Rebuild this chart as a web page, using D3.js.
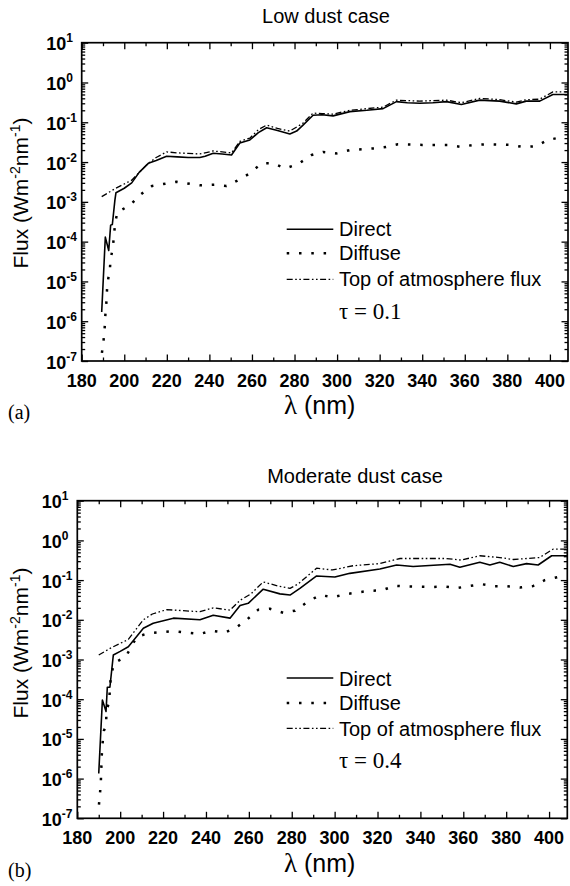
<!DOCTYPE html>
<html><head><meta charset="utf-8">
<script src="https://cdn.jsdelivr.net/npm/d3@7"></script>
<style>body{margin:0;background:#fff}</style></head>
<body>
<svg id="c" width="570" height="886" xmlns="http://www.w3.org/2000/svg"></svg>
<script>
// ---------- DATA ----------
const xTicks = [180,200,220,240,260,280,300,320,340,360,380,400];
const yTickExps = [1,0,-1,-2,-3,-4,-5,-6,-7];

// Panel (a) Low dust case
const lowDirectWl = [189.4,191.1,192.7,193.6,194.4,195.6,196.1,200,203.5,207,211.3,215,219.9,225,230,235.5,238,241.8,246,250.4,254.3,259,263,266.9,272,277.8,281,284,288.7,293,298.1,306,314,321.6,327.9,333,338.8,345,351.4,358.4,367,376.4,384.2,388.9,395.2,401.4,408.5];
const lowDirect   = [1.7e-6,1.3e-4,6e-5,2.6e-4,2.7e-4,1.1e-3,1.7e-3,2.2e-3,3e-3,5.5e-3,9.3e-3,1.1e-2,1.4e-2,1.35e-2,1.3e-2,1.3e-2,1.4e-2,1.66e-2,1.6e-2,1.5e-2,3e-2,3.6e-2,5.5e-2,7.3e-2,6.2e-2,5.1e-2,6e-2,8.5e-2,0.15,0.155,0.145,0.185,0.2,0.22,0.33,0.31,0.3,0.31,0.33,0.28,0.36,0.34,0.29,0.34,0.34,0.5,0.5];
const lowDiffuseWl = [189.5,190.3,190.8,191.1,191.6,191.9,192.5,193.2,193.5,194.6,195.2,195.7,196.8,198.8,202.8,207.5,213,224.6,235.5,242.5,248,253.5,259,264.5,270,275.5,281.7,288,293.4,299.7,306,317,323,328.6,340,352,358.4,364,370.2,381,387.3,393.6,399,405.4];
const lowDiffuse   = [1.6e-7,3.4e-7,6.9e-7,1.4e-6,3e-6,6.2e-6,1.2e-5,1.7e-5,3.5e-5,6.8e-5,1.5e-4,2.9e-4,5.6e-4,6.3e-4,8.3e-4,1.5e-3,2.5e-3,3.2e-3,2.6e-3,2.7e-3,2.5e-3,3.5e-3,5.2e-3,9.3e-3,9.3e-3,6.9e-3,8.9e-3,1.5e-2,1.8e-2,1.65e-2,2e-2,2.2e-2,2.4e-2,2.8e-2,2.7e-2,2.7e-2,2.4e-2,2.7e-2,2.8e-2,2.7e-2,2.4e-2,2.5e-2,3.6e-2,4.2e-2];
const lowToaWl = [189.4,196,203.5,210.5,215,219.9,225,230,235.5,241.8,246,250.4,254.3,259,263,266.9,272,277.8,284,288.7,293,298.1,306,314,321.6,327.9,338.8,351.4,358.4,367,376.4,384.2,388.9,395.2,401.4,408.5];
const lowToa   = [1.35e-3,2.2e-3,3.5e-3,8.5e-3,1.3e-2,1.8e-2,1.7e-2,1.65e-2,1.6e-2,1.9e-2,1.8e-2,1.7e-2,3.3e-2,4e-2,6.5e-2,8.5e-2,7e-2,6e-2,9.5e-2,0.17,0.165,0.16,0.2,0.22,0.24,0.36,0.34,0.36,0.31,0.4,0.37,0.32,0.37,0.38,0.58,0.58];

// Panel (b) Moderate dust case
const modDirectWl = [190,191.7,193.4,194,195.2,196.8,200,203.8,210.8,215.4,224.8,237.2,243.4,251.2,255.9,259.7,266.7,274.5,279.2,283.8,291.6,300.1,307.1,321.1,328.9,336.6,353.8,358.4,367.7,372.4,377,383.3,389.5,394.9,401.2,408.5];
const modDirect   = [1.35e-6,9.5e-5,4.9e-5,2e-4,2e-4,1.3e-3,1.6e-3,2.1e-3,6.1e-3,8.2e-3,1.1e-2,1.0e-2,1.3e-2,1.1e-2,2.3e-2,2.6e-2,5.9e-2,4.5e-2,4.2e-2,6.2e-2,0.127,0.12,0.148,0.19,0.24,0.22,0.25,0.21,0.28,0.24,0.28,0.22,0.26,0.24,0.41,0.41];
const modDiffuseWl = [190.1,190.6,191,191.2,191.4,191.8,192.4,193.4,193.6,194.9,195.2,195.7,197.1,202.7,207.7,213.1,224.8,237.2,242.7,248.9,254.3,259,264.4,269.8,276,281.5,287.7,293.2,299.4,304.8,316.5,321.9,328.1,333.5,345.2,351.4,356.9,368.5,374.7,380.2,386.4,392.6,398,404.3];
const modDiffuse   = [2.2e-7,4.3e-7,9e-7,1.8e-6,3.8e-6,7.8e-6,1.6e-5,2.2e-5,4.9e-5,9e-5,1.9e-4,3.8e-4,8e-4,1.2e-3,3.7e-3,4.6e-3,5.2e-3,4.4e-3,5.3e-3,4.8e-3,6.5e-3,1e-2,1.8e-2,1.9e-2,1.5e-2,1.7e-2,2.9e-2,4.2e-2,3.7e-2,4.4e-2,5.4e-2,5.5e-2,7.2e-2,6.9e-2,6.7e-2,6.9e-2,6.3e-2,7.9e-2,7e-2,7e-2,6.5e-2,7.1e-2,0.1,0.12];
const modToaWl = [190,196,203.8,210.8,215,221.7,237.2,243.4,251.2,255.9,261,266.7,274,279.2,283,291.6,299,308.6,321,330.5,352,359,367.7,377,383.3,395.6,401.8,408.5];
const modToa   = [1.3e-3,2e-3,3.2e-3,1e-2,1.4e-2,1.8e-2,1.6e-2,2.0e-2,1.75e-2,3.1e-2,4.5e-2,9e-2,7e-2,6.2e-2,8e-2,0.2,0.18,0.23,0.26,0.35,0.35,0.32,0.41,0.37,0.33,0.37,0.6,0.6];

const legendLabels = ["Direct","Diffuse","Top of atmosphere flux"];

// ---------- STYLES / LAYOUT ----------
const SANS = "Arial, 'Liberation Sans', Helvetica, sans-serif";
const SERIF = "'Times New Roman', 'Liberation Serif', Times, serif";
const styles = [
  {dash:null, width:1.6, cap:"butt"},
  {dash:"2.5 9.8", width:2.5, cap:"butt"},
  {dash:"6 2.5 1.6 2.5 1.6 2.5", width:1.3, cap:"butt"}
];

const panels = [
  {title:"Low dust case", tx:326, ty:23, L:81.7, R:568, T:42.7, B:361,
   series:[[lowDirectWl,lowDirect],[lowDiffuseWl,lowDiffuse],[lowToaWl,lowToa]],
   legLineY:[229.3,253.3,279.3], legTextY:[235.7,260,286], tau:"τ = 0.1", tauY:319,
   yTitleCy:193, xTitleY:414, tag:"(a)", tagY:419},
  {title:"Moderate dust case", tx:355, ty:483, L:77.3, R:567.3, T:500.7, B:818.3,
   series:[[modDirectWl,modDirect],[modDiffuseWl,modDiffuse],[modToaWl,modToa]],
   legLineY:[678,703,728.3], legTextY:[685.7,710,736], tau:"τ = 0.4", tauY:768,
   yTitleCy:643, xTitleY:871.5, tag:"(b)", tagY:877}
];

const svg = d3.select("#c");

panels.forEach((p, pi) => {
  const x = d3.scaleLinear().domain([180, 408.5]).range([p.L, p.R]);
  const y = d3.scaleLog().domain([1e-7, 1e1]).range([p.B, p.T]);
  const g = svg.append("g");

  const cid = "clip" + pi;
  svg.append("clipPath").attr("id", cid).append("rect")
    .attr("x", p.L).attr("y", p.T).attr("width", p.R - p.L).attr("height", p.B - p.T);

  const line = d3.line().x(d => x(d[0])).y(d => y(d[1]));
  p.series.forEach((s, i) => {
    const pts = s[0].map((w, k) => [w, s[1][k]]);
    g.append("path").attr("d", line(pts)).attr("clip-path", `url(#${cid})`)
      .attr("fill", "none").attr("stroke", "#000")
      .attr("stroke-width", styles[i].width)
      .attr("stroke-linejoin", "round")
      .attr("stroke-linecap", styles[i].cap)
      .attr("stroke-dasharray", styles[i].dash);
  });

  const minorX = d3.range(190, 408, 20);
  g.append("g").attr("transform", `translate(0,${p.B})`)
    .call(d3.axisBottom(x).tickValues(xTicks).tickSize(-6.5).tickFormat(""));
  g.append("g").attr("transform", `translate(0,${p.B})`)
    .call(d3.axisBottom(x).tickValues(minorX).tickSize(-3.5).tickFormat(""));
  g.append("g").attr("transform", `translate(0,${p.T})`)
    .call(d3.axisTop(x).tickValues(xTicks).tickSize(-6.5).tickFormat(""));
  g.append("g").attr("transform", `translate(0,${p.T})`)
    .call(d3.axisTop(x).tickValues(minorX).tickSize(-3.5).tickFormat(""));

  const majorY = yTickExps.map(e => Math.pow(10, e));
  const minorY = [];
  for (let e = -7; e < 1; e++) for (let m = 2; m <= 9; m++) minorY.push(m * Math.pow(10, e));
  [[d3.axisLeft, p.L], [d3.axisRight, p.R]].forEach(([ax, pos]) => {
    g.append("g").attr("transform", `translate(${pos},0)`)
      .call(ax(y).tickValues(majorY).tickSize(-6.5).tickFormat(""));
    g.append("g").attr("transform", `translate(${pos},0)`)
      .call(ax(y).tickValues(minorY).tickSize(-3.5).tickFormat(""));
  });
  g.selectAll(".domain").remove();
  g.selectAll(".tick line").attr("stroke", "#000").attr("stroke-width", 1.3);

  g.append("rect").attr("x", p.L).attr("y", p.T).attr("width", p.R - p.L).attr("height", p.B - p.T)
    .attr("fill", "none").attr("stroke", "#000").attr("stroke-width", 1.7);

  g.selectAll(".xl").data(xTicks).enter().append("text")
    .attr("x", d => x(d)).attr("y", p.B + 25.5)
    .attr("text-anchor", "middle").attr("font-family", SANS).attr("font-weight", "bold")
    .attr("font-size", 18).text(d => d);

  yTickExps.forEach(e => {
    const t = g.append("text").attr("x", p.L - 35.5).attr("y", y(Math.pow(10, e)) + 7.5)
      .attr("font-family", SANS).attr("font-weight", "bold").attr("font-size", 18);
    t.append("tspan").text("10");
    t.append("tspan").attr("dy", -8).attr("font-size", 12).text(e < 0 ? "-" + (-e) : String(e));
  });

  g.append("text").attr("x", p.tx).attr("y", p.ty).attr("text-anchor", "middle")
    .attr("font-family", SANS).attr("font-size", 20).text(p.title);

  const yt = g.append("text").attr("transform", `translate(28,${p.yTitleCy}) rotate(-90)`)
    .attr("text-anchor", "middle").attr("font-family", SANS).attr("font-size", 21);
  yt.append("tspan").text("Flux (Wm");
  yt.append("tspan").attr("dy", -8).attr("font-size", 14).text("-2");
  yt.append("tspan").attr("dy", 8).text("nm");
  yt.append("tspan").attr("dy", -8).attr("font-size", 14).text("-1");
  yt.append("tspan").attr("dy", 8).text(")");

  const xt = g.append("text").attr("x", 284).attr("y", p.xTitleY).attr("font-size", 25);
  xt.append("tspan").attr("font-family", SERIF).attr("font-size", 27).text("λ");
  xt.append("tspan").attr("font-family", SANS).text(" (nm)");

  g.append("text").attr("x", 8).attr("y", p.tagY).attr("font-family", SERIF)
    .attr("font-size", 20).text(p.tag);

  legendLabels.forEach((lab, i) => {
    g.append("line").attr("x1", 286.7).attr("x2", 333.3)
      .attr("y1", p.legLineY[i]).attr("y2", p.legLineY[i])
      .attr("stroke", "#000").attr("stroke-width", styles[i].width)
      .attr("stroke-dasharray", styles[i].dash);
    g.append("text").attr("x", 339).attr("y", p.legTextY[i])
      .attr("font-family", SANS).attr("font-size", 20).text(lab);
  });
  g.append("text").attr("x", 339).attr("y", p.tauY).attr("font-family", SERIF)
    .attr("font-size", 23).text(p.tau);
});
</script>
</body></html>
